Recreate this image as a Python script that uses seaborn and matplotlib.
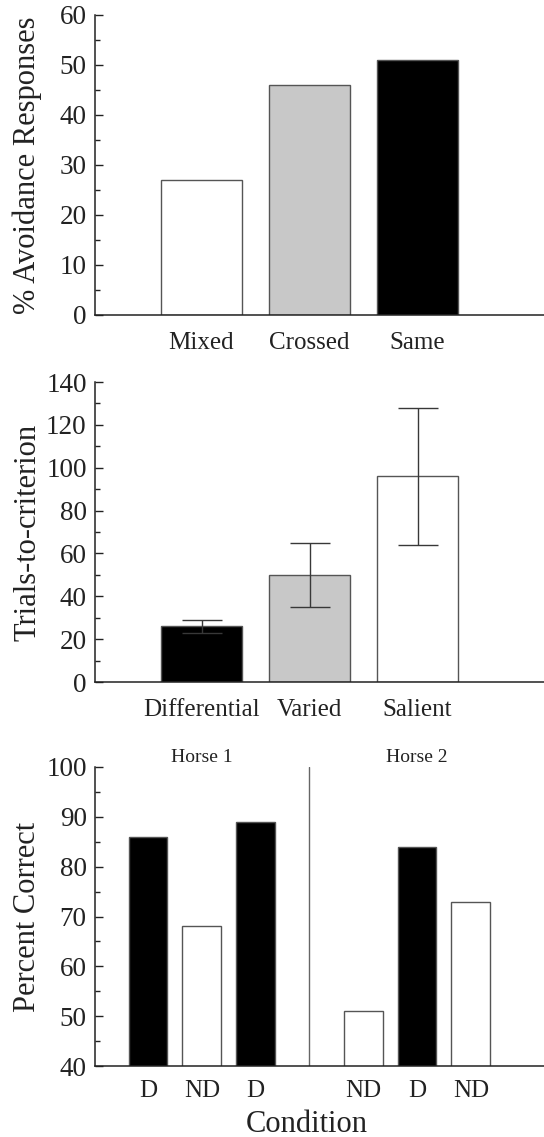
import matplotlib
matplotlib.use('Agg')
import matplotlib.pyplot as plt
import matplotlib.transforms as mtransforms
from matplotlib.ticker import MultipleLocator
import seaborn as sns

# panel 1 - avoidance
avoid_cats = ['Mixed', 'Crossed', 'Same']
avoid_vals = [27, 46, 51]
avoid_cols = ['white', '#c8c8c8', 'black']

# panel 2 - trials to criterion
trial_cats = ['Differential', 'Varied', 'Salient']
trial_vals = [26, 50, 96]
trial_errs = [3, 15, 32]
trial_cols = ['black', '#c8c8c8', 'white']

# panel 3 - percent correct
cond_pos = [0, 1, 2, 4, 5, 6]
cond_labels = ['D', 'ND', 'D', 'ND', 'D', 'ND']
cond_vals = [86, 68, 89, 51, 84, 73]
horse_names = ['Horse 1', 'Horse 2']
horse_pos = [1, 5]

sns.set_style('ticks')
plt.rcParams['font.family'] = ['Liberation Serif', 'DejaVu Serif']
plt.rcParams['text.color'] = '#222222'
plt.rcParams['axes.labelcolor'] = '#222222'
plt.rcParams['xtick.color'] = '#222222'
plt.rcParams['ytick.color'] = '#222222'

fig = plt.figure(figsize=(5.44, 11.37), dpi=100)
W, H = 544, 1137


def make_ax(top, bottom):
    return fig.add_axes([95 / W, 1 - bottom / H, 449 / W, (bottom - top) / H])


def style(ax, major, minor):
    sns.despine(ax=ax)
    for s in ['left', 'bottom']:
        ax.spines[s].set_linewidth(1.1)
        ax.spines[s].set_color('#222222')
    ax.yaxis.set_major_locator(MultipleLocator(major))
    ax.yaxis.set_minor_locator(MultipleLocator(minor))
    ax.tick_params(axis='y', which='major', direction='in', length=6, width=1, labelsize=19.5, pad=6)
    ax.tick_params(axis='y', which='minor', direction='in', length=3.6, width=1)
    ax.tick_params(axis='x', length=0, labelsize=18, pad=12)
    ax.yaxis.set_label_coords(-0.118, 0.5)


# ---- panel 1
ax1 = make_ax(15, 315)
sns.barplot(x=avoid_cats, y=avoid_vals, hue=avoid_cats, palette=avoid_cols, legend=False,
            width=0.75, edgecolor='#555555', linewidth=1, ax=ax1)
ax1.set_xlim(-0.986, 3.17)
ax1.set_ylim(0, 60)
ax1.set_ylabel('% Avoidance Responses', fontsize=22)
style(ax1, 10, 5)

# ---- panel 2
ax2 = make_ax(382, 682)
sns.barplot(x=trial_cats, y=trial_vals, hue=trial_cats, palette=trial_cols, legend=False,
            width=0.75, edgecolor='#555555', linewidth=1, ax=ax2)
ax2.errorbar(x=range(len(trial_vals)), y=trial_vals, yerr=trial_errs, fmt='none',
             ecolor='#383838', elinewidth=1, capsize=14.4, capthick=1)
ax2.set_xlim(-0.986, 3.17)
ax2.set_ylim(0, 140)
ax2.set_ylabel('Trials-to-criterion', fontsize=22)
style(ax2, 20, 10)

# ---- panel 3
ax3 = make_ax(767, 1066)
sns.barplot(x=cond_pos, y=cond_vals, hue=cond_labels, palette={'D': 'black', 'ND': 'white'},
            native_scale=True, dodge=False, legend=False, width=0.72,
            edgecolor='#555555', linewidth=1, ax=ax3)
ax3.axvline(3, color='#666666', lw=1)
ax3.set_xlim(-0.985, 7.36)
ax3.set_ylim(40, 100)
ax3.set_xticks(cond_pos)
ax3.set_xticklabels(cond_labels)
ax3.set_ylabel('Percent Correct', fontsize=22)
ax3.set_xlabel('Condition', fontsize=22)
style(ax3, 10, 5)
ax3.tick_params(axis='x', pad=10)
ax3.xaxis.set_label_coords(0.472, -0.147)
trans = mtransforms.blended_transform_factory(ax3.transData, ax3.transAxes)
for name, p in zip(horse_names, horse_pos):
    ax3.text(p, 1.033, name, transform=trans, ha='center', va='center', fontsize=14)

fig.savefig('out.png', dpi=100)
